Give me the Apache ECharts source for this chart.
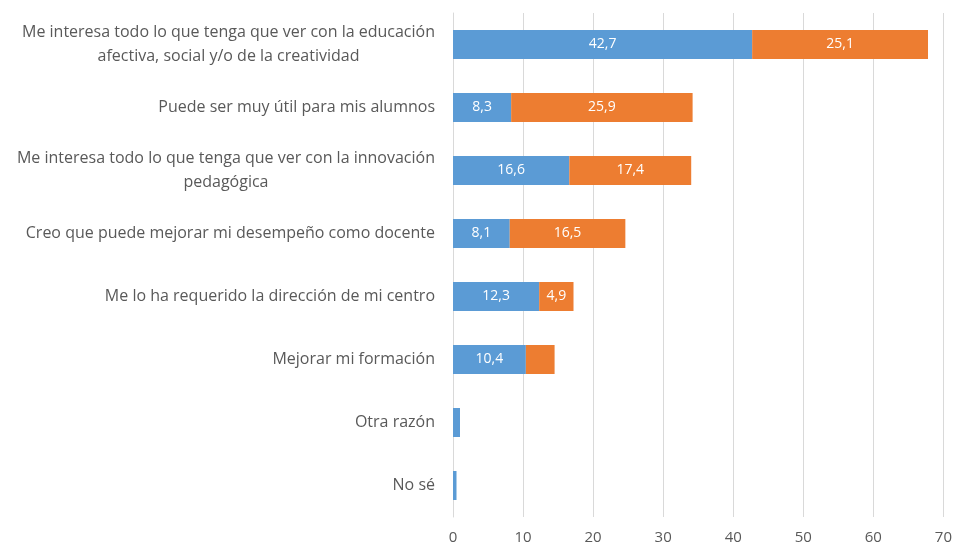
<!DOCTYPE html>
<html>
<head>
<meta charset="utf-8">
<script src="https://cdn.jsdelivr.net/npm/echarts@6/dist/echarts.min.js"></script>
<style>
  html, body { margin: 0; padding: 0; background: #fff; }
  #chart { width: 955px; height: 550px; }
</style>
</head>
<body>
<div id="chart"></div>
<script>
// categories from top to bottom
const categories = [
    'Me interesa todo lo que tenga que ver con la educación\nafectiva, social y/o de la creatividad',
    'Puede ser muy útil para mis alumnos',
    'Me interesa todo lo que tenga que ver con la innovación\npedagógica',
    'Creo que puede mejorar mi desempeño como docente',
    'Me lo ha requerido la dirección de mi centro',
    'Mejorar mi formación',
    'Otra razón',
    'No sé'
];
const blueValues = [42.7, 8.3, 16.6, 8.1, 12.3, 10.4, 1.0, 0.5];
const orangeValues = [25.1, 25.9, 17.4, 16.5, 4.9, 4.1, 0, 0];
const xTicks = [0, 10, 20, 30, 40, 50, 60, 70];

const font = 'Open Sans';

document.addEventListener('DOMContentLoaded', function () {
    const chart = echarts.init(document.getElementById('chart'));

    const labelFmt = function (p) {
        return p.value >= 4.5 ? String(p.value.toFixed(1)).replace('.', ',') : '';
    };

    const option = {
        animation: false,
        grid: {
            top: 13,
            bottom: 33,
            left: 453,
            right: 7
        },
        xAxis: {
            type: 'value',
            min: xTicks[0],
            max: xTicks[xTicks.length - 1],
            interval: 10,
            axisLine: { show: false },
            axisTick: { show: false },
            splitLine: { lineStyle: { color: '#d9d9d9', width: 1 } },
            axisLabel: {
                color: '#595959',
                fontFamily: font,
                fontSize: 15,
                margin: 13
            }
        },
        yAxis: {
            type: 'category',
            inverse: true,
            data: categories,
            axisLine: { show: true, lineStyle: { color: '#d9d9d9' } },
            axisTick: { show: false },
            axisLabel: {
                margin: 18,
                color: '#595959',
                fontFamily: font,
                fontSize: 16,
                lineHeight: 24,
                formatter: function (v) {
                    return v.split('\n').map(function (l) { return '{c|' + l + '}'; }).join('\n');
                },
                rich: {
                    c: {
                        align: 'center',
                        color: '#595959',
                        fontFamily: font,
                        fontSize: 16,
                        lineHeight: 24
                    }
                }
            }
        },
        series: [
            {
                name: 'A',
                type: 'bar',
                stack: 'total',
                barWidth: 29,
                data: blueValues,
                itemStyle: { color: '#5b9bd5' },
                label: {
                    show: true,
                    position: 'inside',
                    color: '#fff',
                    fontFamily: font,
                    fontSize: 14,
                    formatter: labelFmt
                }
            },
            {
                name: 'B',
                type: 'bar',
                stack: 'total',
                barWidth: 29,
                data: orangeValues,
                itemStyle: { color: '#ed7d31' },
                label: {
                    show: true,
                    position: 'inside',
                    color: '#fff',
                    fontFamily: font,
                    fontSize: 14,
                    formatter: labelFmt
                }
            }
        ]
    };

    chart.setOption(option);
    window.addEventListener('resize', function () {
        chart.resize();
    });
});
</script>
</body>
</html>
